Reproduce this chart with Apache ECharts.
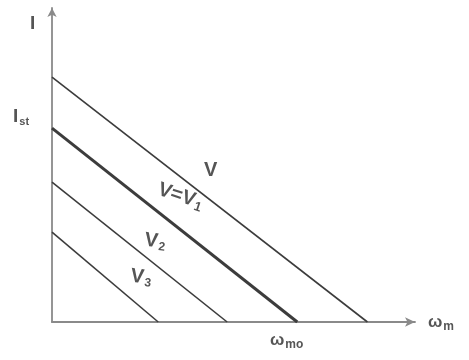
<!DOCTYPE html>
<html>
<head>
<meta charset="utf-8">
<script src="https://cdn.jsdelivr.net/npm/echarts@6/dist/echarts.min.js"></script>
<style>
  html, body { margin: 0; padding: 0; background: #fff; }
  #chart { width: 469px; height: 360px; }
</style>
</head>
<body>
<div id="chart"></div>
<script>
// Speed–current characteristics of a motor for several supply voltages
// (per-unit: current relative to I_st, speed relative to ω_mo)
const curveNames   = ['V', 'V=V1', 'V2', 'V3'];
const startCurrent = [1.263, 1.0, 0.722, 0.464];   // current at zero speed
const noLoadSpeed  = [1.286, 1.0, 0.714, 0.433];   // speed at zero current
const curveWidths  = [1.6, 3, 1.6, 1.6];

const chart = echarts.init(document.getElementById('chart'));

const ink = '#3c3c3c';
const axisInk = '#8a8a8a';
const textInk = '#555555';
const font = '"Liberation Sans", "DejaVu Sans", sans-serif';

const series = curveNames.map((name, i) => ({
  name: name,
  type: 'line',
  symbol: 'none',
  silent: true,
  lineStyle: { color: ink, width: curveWidths[i] },
  data: [[0, startCurrent[i]], [noLoadSpeed[i], 0]]
}));

const rich = (big, small) => ({
  b: { fontSize: big, fontWeight: 'bold', fontFamily: font, fill: textInk },
  s: { fontSize: small, fontWeight: 'bold', fontFamily: font, fill: textInk, verticalAlign: 'bottom', padding: [Math.round(big * 0.5), 0, 0, 1] }
});

const txt = (x, y, text, r, rot) => ({
  type: 'text', x: x, y: y, rotation: rot || 0,
  style: { text: text, font: 'bold 20px ' + font, fill: textInk, rich: r }
});

chart.setOption({
  animation: false,
  backgroundColor: '#ffffff',
  grid: { left: 52, right: 54, top: 8, bottom: 38 },
  xAxis: {
    type: 'value', min: 0, max: 1.48,
    axisLine: { lineStyle: { color: axisInk, width: 1.8 }, symbol: ['none', 'arrow'], symbolSize: [7, 10] },
    axisTick: { show: false }, axisLabel: { show: false }, splitLine: { show: false }
  },
  yAxis: {
    type: 'value', min: 0, max: 1.62,
    axisLine: { show: true, lineStyle: { color: axisInk, width: 1.8 }, symbol: ['none', 'arrow'], symbolSize: [7, 9] },
    axisTick: { show: false }, axisLabel: { show: false }, splitLine: { show: false }
  },
  series: series,
  graphic: [
    txt(30, 14, '{b|I}', rich(19, 11)),
    txt(13, 106, '{b|I}{s|st}', rich(19, 11)),
    txt(204, 160, '{b|V}', rich(20, 12)),
    txt(162, 178, '{b|V=V}{s|1}', rich(20, 13), -0.32),
    txt(146, 229, '{b|V}{s|2}', rich(20, 12), -0.12),
    txt(132, 265, '{b|V}{s|3}', rich(20, 12), -0.12),
    txt(428, 312, '{b|ω}{s|m}', rich(17, 12)),
    txt(270, 330, '{b|ω}{s|mo}', rich(17, 12))
  ]
});
</script>
</body>
</html>
